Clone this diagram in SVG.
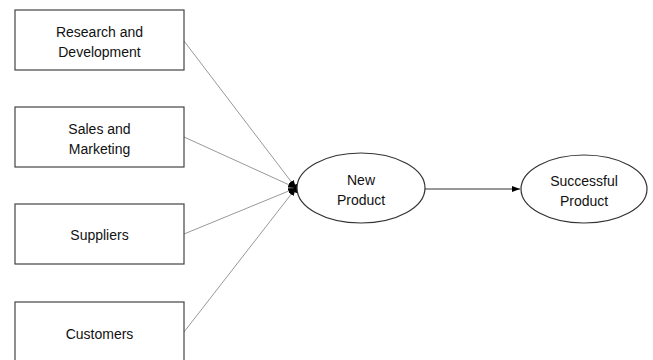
<svg xmlns="http://www.w3.org/2000/svg" width="653" height="360" viewBox="0 0 653 360">
<style>
.box{fill:#fff;stroke:#444;stroke-width:1.2}
.ell{fill:#fff;stroke:#333;stroke-width:1.2}
.t{font-family:"Liberation Sans",Arial,sans-serif;font-size:14px;fill:#111;text-anchor:middle}
.con{stroke:#999;stroke-width:1;fill:none}
.arr{stroke:#333;stroke-width:1;fill:none}
</style>
<defs>
<marker id="ah" viewBox="0 0 8 6" refX="8" refY="3" markerWidth="8" markerHeight="6" orient="auto" markerUnits="userSpaceOnUse">
<path d="M0,0 L8,3 L0,6 z" fill="#000"/>
</marker>
</defs>
<rect width="653" height="360" fill="#fff"/>
<g id="connectors">
<line class="con" x1="184" y1="41" x2="296" y2="188" marker-end="url(#ah)"/>
<line class="con" x1="184" y1="137" x2="296" y2="188" marker-end="url(#ah)"/>
<line class="con" x1="184" y1="234" x2="296" y2="188" marker-end="url(#ah)"/>
<line class="con" x1="184" y1="332" x2="296" y2="188" marker-end="url(#ah)"/>
<line class="arr" x1="425" y1="189" x2="520" y2="189" marker-end="url(#ah)"/>
<ellipse cx="296.5" cy="188.5" rx="2.2" ry="4.5" fill="#000"/>
</g>
<g id="rd">
<rect class="box" x="15" y="10" width="169" height="60"/>
<text class="t" x="99.5" y="37">Research and</text>
<text class="t" x="99.5" y="57">Development</text>
</g>
<g id="sm">
<rect class="box" x="15" y="107" width="169" height="60"/>
<text class="t" x="99.5" y="134">Sales and</text>
<text class="t" x="99.5" y="154">Marketing</text>
</g>
<g id="sup">
<rect class="box" x="15" y="204" width="169" height="60"/>
<text class="t" x="99.5" y="240">Suppliers</text>
</g>
<g id="cust">
<rect class="box" x="15" y="302" width="169" height="62"/>
<text class="t" x="99.5" y="339">Customers</text>
</g>
<g id="np">
<ellipse class="ell" cx="361" cy="188" rx="64" ry="35"/>
<text class="t" x="361" y="185">New</text>
<text class="t" x="361" y="205">Product</text>
</g>
<g id="sp">
<ellipse class="ell" cx="584" cy="189" rx="63" ry="34"/>
<text class="t" x="584" y="186">Successful</text>
<text class="t" x="584" y="206">Product</text>
</g>
</svg>
